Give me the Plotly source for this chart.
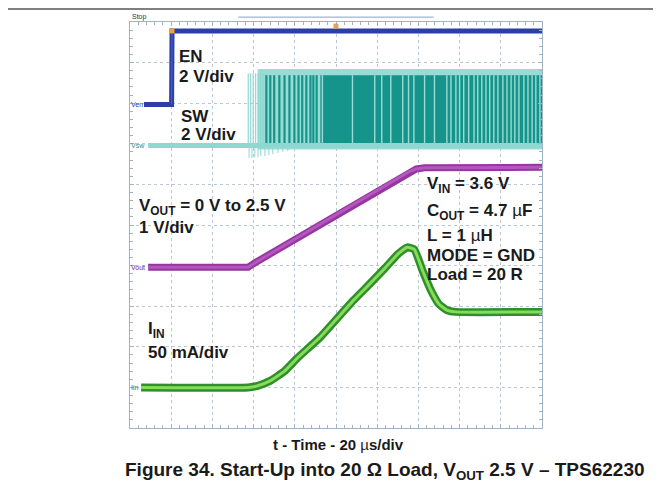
import plotly.graph_objects as go

# ---- data (x: time in µs, 20 µs/div; y: screen divisions, 0 = bottom) ----
en_t = [6.8, 20.2, 20.4, 200]
en_y = [7.97, 7.97, 9.78, 9.78]

sw_base_t = [8.8, 200]
sw_base_y = [6.96, 6.96]

sw_low, sw_high = 7.02, 8.69          # dark switching band
sw_band_low, sw_band_high = 6.86, 8.84  # light envelope
sw_start_t = 57.4
sw_dense_start_t = 92.4

# sparse dark pulses before dense region (µs)
sw_dark_pulses = [66.2, 68.1, 70.0, 72.5, 75.0, 77.4, 79.8, 81.8, 83.6, 85.6, 87.6, 89.0, 90.6]
# light gaps inside dark region (µs)
sw_light_gaps = [93.4, 108.0, 118.8, 122.2, 126.6, 132.4, 135.2, 137.8, 143.0, 147.8,
                 153.8, 155.8, 158.2, 160.0, 162.0, 164.4, 167.0, 168.8, 170.8, 172.8,
                 174.6, 176.6, 178.6, 181.0, 183.0, 185.0, 186.8, 188.8, 191.2, 193.2,
                 195.2, 197.0, 199.0]
# early light pulses (µs)
sw_light_early = [57.4, 58.6, 59.8, 61.0, 62.2, 63.4, 64.6]
# ringing below baseline: positions (µs) and lowest level (div)
ring_t = [57.8, 59.2, 60.6, 62.1, 63.5, 65.5, 67.4, 69.3, 71.8, 74.2, 76.6]
ring_y = [6.65, 6.65, 6.67, 6.67, 6.70, 6.70, 6.72, 6.75, 6.77, 6.80, 6.82]

vout_t = [8.8, 57.4, 61.0, 135.0, 139.0, 143.0, 200]
vout_y = [3.96, 3.96, 4.08, 6.30, 6.38, 6.41, 6.42]

iin_t = [5.4, 57.4, 62.0, 68.0, 75.0, 81.2, 92.4, 100.6, 108.6, 115.8, 124.0, 130.0, 134.6,
         138.0, 142.0, 146.0, 150.0, 154.0, 158.0, 200]
iin_y = [1.00, 1.00, 1.04, 1.16, 1.40, 1.72, 2.24, 2.70, 3.15, 3.52, 3.95, 4.28, 4.45,
         4.40, 3.88, 3.40, 3.05, 2.90, 2.86, 2.86]

XMAX, YMAX = 200, 10

def segs(xs, y0, y1):
    X, Y = [], []
    for x in xs:
        X += [x, x, None]
        Y += [y0, y1, None]
    return X, Y

fig = go.Figure()

# SW light envelope
fig.add_trace(go.Scatter(x=[sw_start_t + 4.6, XMAX, XMAX, sw_start_t + 4.6, sw_start_t + 4.6],
                         y=[sw_band_low, sw_band_low, sw_band_high, sw_band_high, sw_band_low],
                         fill="toself", fillcolor="#9adcd5", line=dict(width=0),
                         mode="lines", hoverinfo="skip"))
# SW baseline
fig.add_trace(go.Scatter(x=sw_base_t, y=sw_base_y, mode="lines",
                         line=dict(color="#8fd8d1", width=5), hoverinfo="skip"))
# ringing below baseline
rx, ry = [], []
for t, yy in zip(ring_t, ring_y):
    rx += [t, t, None]
    ry += [sw_base_y[0], yy, None]
fig.add_trace(go.Scatter(x=rx, y=ry, mode="lines", line=dict(color="#8fd8d1", width=1),
                         hoverinfo="skip"))
# early light pulses
ex, ey = segs(sw_light_early, sw_base_y[0], sw_band_high - 0.1)
fig.add_trace(go.Scatter(x=ex, y=ey, mode="lines", line=dict(color="#8fd8d1", width=1.2),
                         hoverinfo="skip"))
# dense dark region
fig.add_trace(go.Scatter(x=[sw_dense_start_t, XMAX, XMAX, sw_dense_start_t, sw_dense_start_t],
                         y=[sw_low, sw_low, sw_high, sw_high, sw_low],
                         fill="toself", fillcolor="#14948a", line=dict(width=0),
                         mode="lines", hoverinfo="skip"))
# sparse dark pulses
dx, dy = segs(sw_dark_pulses, sw_low, sw_high)
fig.add_trace(go.Scatter(x=dx, y=dy, mode="lines", line=dict(color="#14948a", width=2.2),
                         hoverinfo="skip"))
# light gaps
gx, gy = segs(sw_light_gaps, sw_low, sw_high)
fig.add_trace(go.Scatter(x=gx, y=gy, mode="lines", line=dict(color="#9adcd5", width=1.4),
                         hoverinfo="skip"))

# EN
fig.add_trace(go.Scatter(x=en_t, y=en_y, mode="lines", line=dict(color="#2b3fa6", width=5),
                         hoverinfo="skip"))
fig.add_trace(go.Scatter(x=[en_t[1], en_t[2]], y=[en_y[1], en_y[2]], mode="lines",
                         line=dict(color="#4a62c8", width=1), hoverinfo="skip"))

# VOUT
fig.add_trace(go.Scatter(x=vout_t, y=vout_y, mode="lines",
                         line=dict(color="#96369f", width=7), hoverinfo="skip"))
fig.add_trace(go.Scatter(x=vout_t, y=vout_y, mode="lines",
                         line=dict(color="#b456c0", width=3), hoverinfo="skip"))

# IIN
fig.add_trace(go.Scatter(x=iin_t, y=iin_y, mode="lines", line_shape="spline",
                         line=dict(color="#2f8f2a", width=8, smoothing=0.4), hoverinfo="skip"))
fig.add_trace(go.Scatter(x=iin_t, y=iin_y, mode="lines", line_shape="spline",
                         line=dict(color="#86dc5a", width=3, smoothing=0.4), hoverinfo="skip"))

# markers on top
fig.add_trace(go.Scatter(x=[en_t[2], 100, 62.0], y=[en_y[2], 9.9, 10.03], mode="markers",
                         marker=dict(color="#f0a040", size=5, symbol="square"),
                         hoverinfo="skip", cliponaxis=False))

F = "Arial, 'Liberation Sans', sans-serif"
def lab(x, y, text, size=17):
    fig.add_annotation(x=x, y=y, xref="x", yref="y", text=text, showarrow=False,
                       xanchor="left", yanchor="middle",
                       font=dict(family=F, size=size, color="#1a1a1a"))

lab(22.9, 9.14, "<b>EN</b>")
lab(22.9, 8.67, "<b>2 V/div</b>")
lab(23.8, 7.68, "<b>SW</b>")
lab(23.8, 7.24, "<b>2 V/div</b>")
lab(3.6, 5.45, "<b>V<sub>OUT</sub> = 0 V to 2.5 V</b>")
lab(3.6, 4.93, "<b>1 V/div</b>")
lab(143, 5.99, "<b>V<sub>IN</sub> = 3.6 V</b>")
lab(143, 5.33, "<b>C<sub>OUT</sub> = 4.7 </b>µ<b>F</b>")
lab(143, 4.73, "<b>L = 1 </b>µ<b>H</b>")
lab(143, 4.26, "<b>MODE = GND</b>")
lab(143, 3.79, "<b>Load = 20 R</b>")
lab(8.0, 2.42, "<b>I<sub>IN</sub></b>")
lab(8.0, 1.87, "<b>50 mA/div</b>")

def small(x, y, text, color, xref="x", yref="y"):
    fig.add_annotation(x=x, y=y, xref=xref, yref=yref, text=text, showarrow=False,
                       xanchor="left", yanchor="middle", borderpad=0,
                       font=dict(family=F, size=7, color=color))
small(0.05, en_y[0], "Ven", "#2b3fa6")
small(0.05, sw_base_y[0], "Vsw", "#3a8a84")
small(0.05, vout_y[0], "Vout", "#7a2a88")
small(0.05, iin_y[0], "Iin", "#2f7f2a")
small(0.002, 1.012, "Stop", "#333333", xref="paper", yref="paper")

fig.add_annotation(x=0.505, y=-0.040, xref="paper", yref="paper", showarrow=False,
                   text="<b>t - Time - 20 </b>µ<b>s/div</b>", xanchor="center", yanchor="middle",
                   font=dict(family=F, size=15, color="#1a1a1a"))
fig.add_annotation(x=0.62, y=-0.106, xref="paper", yref="paper", showarrow=False,
                   text="<b>Figure 34. Start-Up into 20 Ω Load, V<sub>OUT</sub> 2.5 V – TPS62230</b>",
                   xanchor="center", yanchor="middle",
                   font=dict(family=F, size=19, color="#1a1a1a"))

# top rule line and blue bar
fig.add_shape(type="line", xref="paper", yref="paper", x0=-0.32, x1=1.3, y0=1.032, y1=1.032,
              line=dict(color="black", width=1.2))
fig.add_shape(type="line", xref="x", yref="paper", x0=52.6, x1=147.4, y0=1.012, y1=1.012,
              line=dict(color="#7f9ee0", width=1))

axis_common = dict(showticklabels=False, showgrid=True, gridcolor="#b9c6d6", griddash="dot",
                   gridwidth=1, zeroline=False, showline=True, linecolor="#9fb2c6",
                   linewidth=1, mirror="ticks", ticks="inside", ticklen=4, tickcolor="#9fb2c6")
fig.update_xaxes(range=[0, XMAX], dtick=20, **axis_common,
                 minor=dict(dtick=4, ticks="inside", ticklen=3, tickcolor="#9fb2c6", showgrid=False))
fig.update_yaxes(range=[0, YMAX], dtick=1, **axis_common,
                 minor=dict(dtick=0.2, ticks="inside", ticklen=3, tickcolor="#9fb2c6", showgrid=False))

fig.update_layout(width=653, height=495, margin=dict(l=122, r=119, t=14, b=75),
                  paper_bgcolor="white", plot_bgcolor="white", showlegend=False)

fig.write_html("out.html")
